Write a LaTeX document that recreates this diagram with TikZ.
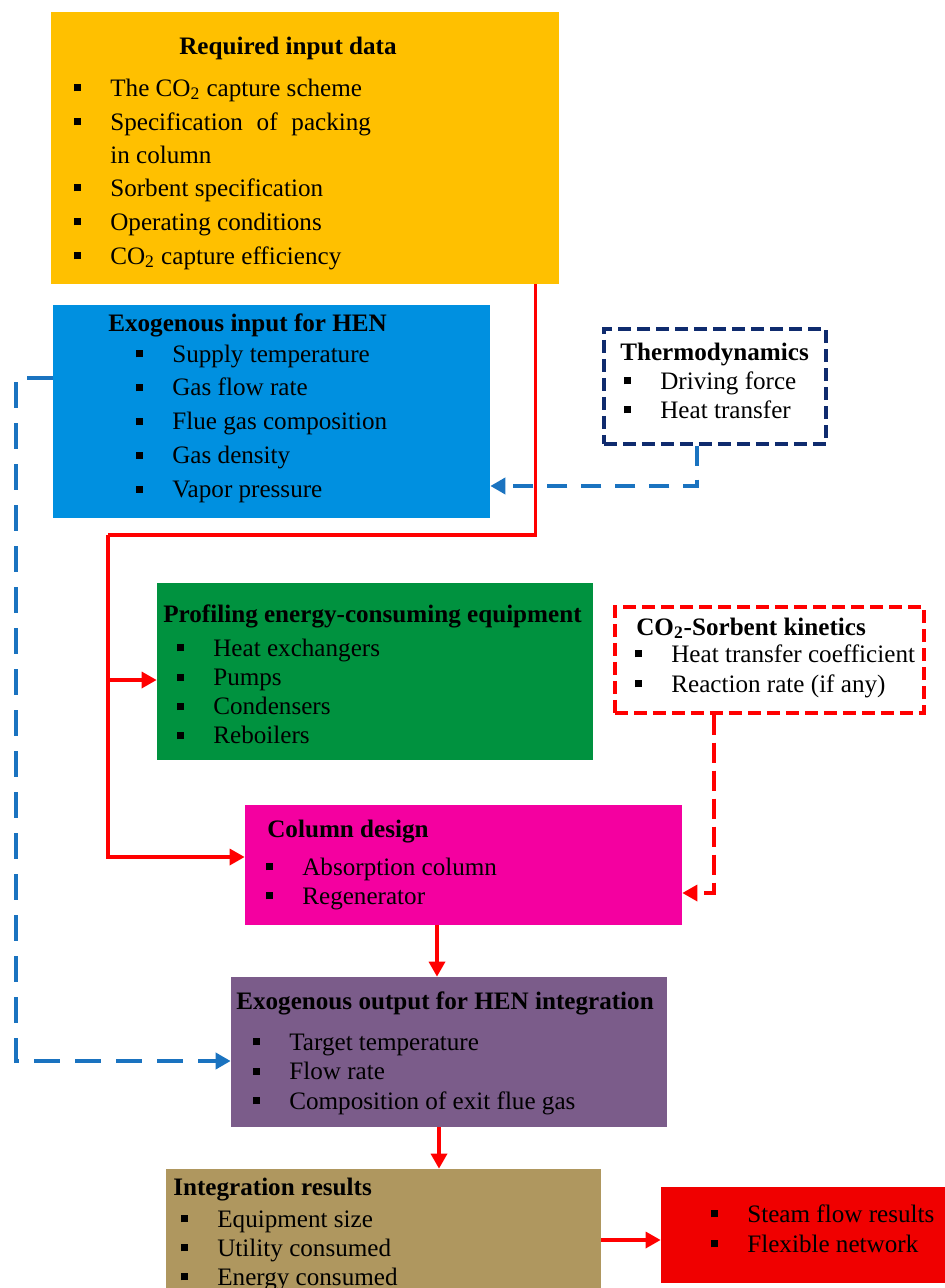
\documentclass[tikz,border=0pt]{standalone}
\usepackage{fontspec}
\setmainfont{Liberation Serif}
\usetikzlibrary{arrows.meta,fit}
\definecolor{cyel}{HTML}{FFC000}
\definecolor{cblue}{HTML}{0090E0}
\definecolor{cgreen}{HTML}{00923F}
\definecolor{cmag}{HTML}{F400A0}
\definecolor{cpurp}{HTML}{7B5C8A}
\definecolor{ctan}{HTML}{AF975F}
\definecolor{cbox}{HTML}{F00000}
\definecolor{cred}{HTML}{FF0000}
\definecolor{cnavy}{HTML}{0F2B6E}
\definecolor{cbdash}{HTML}{1A73C0}
\newcommand{\sqb}{\rule[0.18em]{0.28em}{0.28em}}
\newcommand{\itm}[1]{\makebox[0.72cm][l]{\sqb}#1}
\tikzset{
  box/.style={inner sep=0pt},
  item/.style={anchor=base west,inner sep=0pt,font=\fontsize{14.3}{17}\selectfont},
  head/.style={item,font=\bfseries\fontsize{14.3}{17}\selectfont},
  flow/.style={draw=cred,line width=1.9pt},
  arr/.style={-{Triangle[length=0.3cm,width=0.32cm]}},
  bdash/.style={draw=cbdash,line width=2.2pt,dash pattern=on 0.52cm off 0.3cm},
  tdash/.style={draw=cbdash,line width=2.2pt,dash pattern=on 0.4cm off 0.28cm},
  rdash/.style={draw=cred,line width=1.9pt,dash pattern=on 0.4cm off 0.16cm}
}
\begin{document}
\begin{tikzpicture}[x=0.02cm,y=-0.02cm]
        \useasboundingbox (0,0) rectangle (944,1288);
        %% Boxes
        \node[box,fill=cyel,fit={(51,12) (559,284)}] (req) {};
        \node[box,fill=cblue,fit={(53,305) (490,518)}] (hen) {};
        \node[box,draw=cnavy,line width=1.9pt,dash pattern=on 0.26cm off 0.12cm,fit={(604,329) (826,444)}] (thermo) {};
        \node[box,fill=cgreen,fit={(157,583) (593,760)}] (prof) {};
        \node[box,draw=cred,line width=1.9pt,dash pattern=on 0.26cm off 0.12cm,fit={(615,607) (924,713)}] (kin) {};
        \node[box,fill=cmag,fit={(245,805) (682,925)}] (col) {};
        \node[box,fill=cpurp,fit={(231,977) (667,1127)}] (outp) {};
        \node[box,fill=ctan,fit={(166,1169) (601,1292)}] (res) {};
        \node[box,fill=cbox,fit={(661,1187) (946,1283)}] (steam) {};
        %% Required input data
        \node[head,anchor=base] (reqt) at (288,54) {Required input data};
        \foreach \y/\t [count=\i] in {96/The CO\textsubscript{2} capture scheme,
            130/Specification\hspace{0.3em} of\hspace{0.3em} packing,
            196/Sorbent specification, 230/Operating conditions,
            264/CO\textsubscript{2} capture efficiency}
          \node[item] (req\i) at (74,\y) {\itm{\t}};
        \node[item] (req0) at (110,163) {in column};
        %% Exogenous input
        \node[head] (hent) at (108,331) {Exogenous input for HEN};
        \foreach \t [count=\i] in {Supply temperature, Gas flow rate,
            Flue gas composition, Gas density, Vapor pressure}
          \node[item] (hen\i) at (136,{362+(\i-1)*33.8}) {\itm{\t}};
        %% Thermodynamics
        \node[head] (thermot) at (620,360) {Thermodynamics};
        \foreach \t [count=\i] in {Driving force, Heat transfer}
          \node[item] (thermo\i) at (624,{389+(\i-1)*29}) {\itm{\t}};
        %% Profiling
        \node[head] (proft) at (163,622) {Profiling energy-consuming equipment};
        \foreach \t [count=\i] in {Heat exchangers, Pumps, Condensers, Reboilers}
          \node[item] (prof\i) at (177,{656+(\i-1)*29.3}) {\itm{\t}};
        %% Kinetics
        \node[head] (kint) at (636,635) {CO\textsubscript{2}-Sorbent kinetics};
        \foreach \t [count=\i] in {Heat transfer coefficient, Reaction rate (if any)}
          \node[item] (kin\i) at (635,{662+(\i-1)*30}) {\itm{\t}};
        %% Column design
        \node[head] (colt) at (267,837) {Column design};
        \foreach \t [count=\i] in {Absorption column, Regenerator}
          \node[item] (col\i) at (266,{875+(\i-1)*29}) {\itm{\t}};
        %% Exogenous output
        \node[head] (outpt) at (236,1009) {Exogenous output for HEN integration};
        \foreach \t [count=\i] in {Target temperature, Flow rate, Composition of exit flue gas}
          \node[item] (outp\i) at (253,{1050+(\i-1)*29.5}) {\itm{\t}};
        %% Integration results
        \node[head] (rest) at (173,1195) {Integration results};
        \foreach \t [count=\i] in {Equipment size, Utility consumed, Energy consumed}
          \node[item] (res\i) at (181,{1227+(\i-1)*29}) {\itm{\t}};
        \foreach \t [count=\i] in {Steam flow results, Flexible network}
          \node[item] (steam\i) at (711,{1222+(\i-1)*30}) {\itm{\t}};
        %% Red flow
        \coordinate (split) at (108,535);
        \draw[flow] ([xshift=-0.48cm]req.south east) |- (split);
        \draw[flow,arr] (split) |- ([yshift=-0.17cm]prof.west);
        \draw[flow,arr] (split) |- ([yshift=0.16cm]col.west);
        \draw[flow,arr] ([xshift=-0.53cm]col.south) -- ([xshift=-0.53cm]col.south |- outp.north);
        \draw[flow,arr] ([xshift=-0.2cm]outp.south) -- ([xshift=-0.2cm]outp.south |- res.north);
        \draw[flow,arr] ([yshift=-0.19cm]res.east) -- ([yshift=-0.19cm]res.east -| steam.west);
        %% Dashed links
        \coordinate (lft) at (16,1061);
        \draw[bdash,arr] ([yshift=0.67cm]hen.west) -| (lft) -- (lft -| outp.west);
        \draw[tdash,arr] ([xshift=-0.36cm]thermo.south) |- ([yshift=-1.49cm]hen.east);
        \draw[rdash,arr] ([xshift=-1.11cm]kin.south) |- ([yshift=-0.56cm]col.east);
    \end{tikzpicture}
\end{document}
